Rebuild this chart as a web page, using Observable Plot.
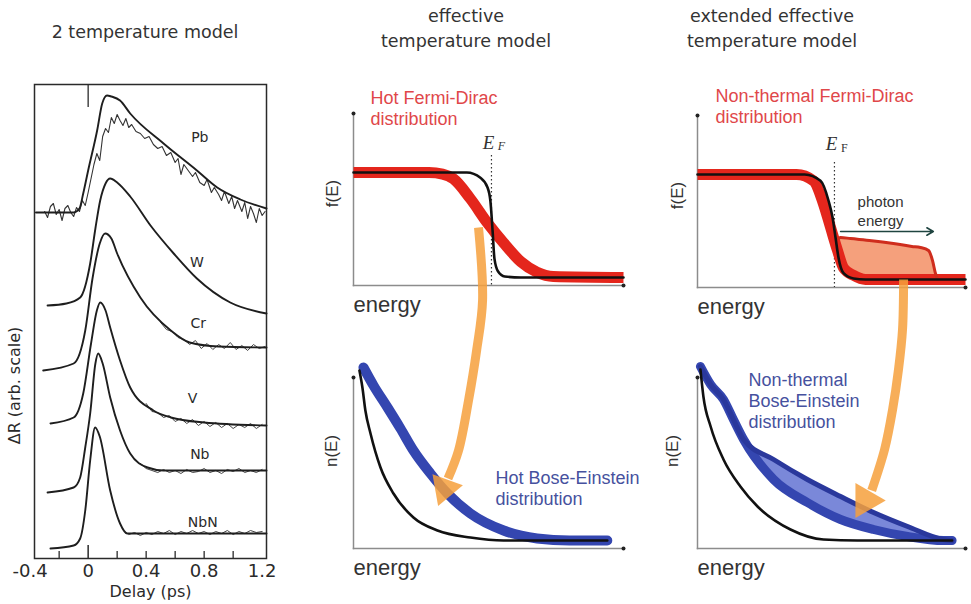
<!DOCTYPE html>
<html>
<head>
<meta charset="utf-8">
<script src="https://cdn.jsdelivr.net/npm/d3@7"></script>
<script src="https://cdn.jsdelivr.net/npm/@observablehq/plot@0.6"></script>
<style>
  body { margin: 0; background: #fff; }
  #fig { position: relative; width: 971px; height: 604px; overflow: hidden; background: #fff; }
  .title { position: absolute; transform: translate(-50%, -50%); white-space: nowrap;
           font-family: "DejaVu Sans", sans-serif; font-size: 17.5px; color: #333; text-align: center; line-height: 25px; }
</style>
</head>
<body>
<div id="fig">
  <div class="title" style="left:145px; top:32px;">2 temperature model</div>
  <div class="title" style="left:466px; top:29px;">effective<br>temperature model</div>
  <div class="title" style="left:772px; top:29px;">extended effective<br>temperature model</div>
</div>
<script>
// ---------- Left panel: transient reflectivity, one offset trace per metal ----------
const metalNames  = ["Pb", "W", "Cr", "V", "Nb", "NbN"];
const labelDelay  = [0.77, 0.75, 0.76, 0.72, 0.77, 0.79];
const labelValue  = [4.21, 2.96, 2.35, 1.60, 1.04, 0.36];
const delayTicks  = [-0.4, 0, 0.4, 0.8, 1.2];
const delayMinor  = [-0.2, 0.2, 0.4, 0.6, 0.8, 1.0];

// model fits, [delay (ps), ΔR (arb.)]
const pbFit  = [[-0.36,3.46],[-0.10,3.46],[-0.06,3.50],[-0.034,3.65],[0.0,3.88],[0.062,4.28],[0.097,4.55],[0.13,4.63],[0.16,4.62],[0.22,4.58],[0.29,4.45],[0.52,4.15],[0.75,3.88],[0.89,3.71],[1.05,3.59],[1.23,3.50]];
const wFit   = [[-0.28,2.53],[-0.15,2.55],[-0.055,2.61],[0.014,2.95],[0.05,3.30],[0.083,3.58],[0.12,3.75],[0.152,3.80],[0.2,3.76],[0.29,3.62],[0.43,3.33],[0.59,3.05],[0.75,2.80],[0.98,2.56],[1.23,2.45]];
const crFit  = [[-0.31,1.88],[-0.10,1.95],[-0.02,2.28],[0.03,2.80],[0.08,3.15],[0.117,3.25],[0.16,3.20],[0.2,3.05],[0.36,2.61],[0.57,2.28],[0.70,2.16],[0.9,2.12],[1.23,2.11]];
const vFit   = [[-0.26,1.35],[-0.10,1.41],[-0.034,1.65],[0.02,2.15],[0.06,2.48],[0.083,2.56],[0.12,2.48],[0.152,2.31],[0.22,1.98],[0.29,1.71],[0.45,1.48],[0.57,1.41],[0.8,1.36],[1.23,1.33]];
const nbFit  = [[-0.28,0.66],[-0.10,0.71],[-0.055,0.81],[-0.02,1.11],[0.014,1.45],[0.05,1.95],[0.069,2.05],[0.10,1.95],[0.152,1.61],[0.22,1.28],[0.29,1.05],[0.41,0.91],[0.52,0.88],[0.8,0.88],[1.23,0.88]];
const nbnFit = [[-0.26,0.10],[-0.10,0.13],[-0.055,0.20],[-0.02,0.48],[0.014,0.98],[0.048,1.31],[0.08,1.22],[0.152,0.68],[0.22,0.35],[0.27,0.25],[0.36,0.25],[0.6,0.25],[1.23,0.25]];

// measured transients (noisy)
const pbData = [[-0.30,3.47],[-0.28,3.41],[-0.26,3.52],[-0.24,3.55],[-0.22,3.44],[-0.20,3.49],[-0.18,3.38],[-0.16,3.50],[-0.14,3.53],[-0.12,3.46],
  [-0.10,3.42],[-0.08,3.51],[-0.06,3.47],[-0.04,3.58],[-0.02,3.53],[0.00,3.66],[0.02,3.80],[0.04,3.94],[0.06,4.05],[0.08,3.98],
  [0.10,4.22],[0.12,4.30],[0.14,4.26],[0.16,4.41],[0.18,4.35],[0.20,4.44],[0.22,4.38],[0.24,4.33],[0.26,4.40],[0.28,4.31],
  [0.30,4.34],[0.33,4.27],[0.36,4.25],[0.39,4.20],[0.42,4.22],[0.45,4.14],[0.48,4.10],[0.51,4.12],[0.54,4.03],[0.57,4.06],
  [0.60,3.96],[0.62,4.00],[0.64,3.84],[0.66,3.94],[0.69,3.88],[0.72,3.82],[0.74,3.86],[0.77,3.76],[0.80,3.73],[0.82,3.79],
  [0.85,3.66],[0.87,3.71],[0.90,3.64],[0.92,3.58],[0.94,3.67],[0.97,3.55],[0.99,3.62],[1.01,3.50],[1.03,3.58],[1.06,3.47],
  [1.08,3.56],[1.10,3.40],[1.12,3.52],[1.14,3.45],[1.16,3.36],[1.18,3.50],[1.20,3.43],[1.22,3.47]];
const crData  = [[0.50,2.36],[0.54,2.29],[0.58,2.27],[0.62,2.21],[0.66,2.19],[0.70,2.14],[0.74,2.18],[0.78,2.10],[0.82,2.15],[0.86,2.09],[0.90,2.14],[0.94,2.10],[0.98,2.16],[1.02,2.09],[1.06,2.13],[1.10,2.08],[1.14,2.14],[1.18,2.10],[1.22,2.12]];
const vData   = [[0.40,1.55],[0.44,1.47],[0.48,1.46],[0.52,1.41],[0.56,1.43],[0.60,1.37],[0.64,1.40],[0.68,1.35],[0.72,1.39],[0.76,1.33],[0.80,1.37],[0.84,1.32],[0.88,1.36],[0.92,1.31],[0.96,1.35],[1.00,1.30],[1.04,1.34],[1.08,1.31],[1.12,1.35],[1.16,1.30],[1.20,1.34]];
const nbData  = [[0.36,0.95],[0.40,0.90],[0.44,0.88],[0.48,0.86],[0.52,0.89],[0.56,0.86],[0.60,0.88],[0.64,0.85],[0.68,0.89],[0.72,0.86],[0.76,0.87],[0.80,0.90],[0.84,0.86],[0.88,0.88],[0.92,0.85],[0.96,0.89],[1.00,0.87],[1.04,0.90],[1.08,0.86],[1.12,0.88],[1.16,0.86],[1.20,0.89]];
const nbnData = [[0.28,0.24],[0.32,0.26],[0.36,0.23],[0.40,0.26],[0.44,0.24],[0.48,0.27],[0.52,0.25],[0.56,0.28],[0.60,0.24],[0.64,0.27],[0.68,0.25],[0.72,0.28],[0.76,0.25],[0.80,0.27],[0.84,0.24],[0.88,0.27],[0.92,0.25],[0.96,0.28],[1.00,0.24],[1.04,0.27],[1.08,0.25],[1.12,0.28],[1.16,0.26],[1.20,0.27]];

// ---------- Electron distributions f(E) ----------
const fermiEnergy = 0.511;
const fdColdMid   = [[0,1],[0.42,1],[0.47,0.95],[0.496,0.86],[0.507,0.73],[0.515,0.45],[0.522,0.18],[0.535,0.06],[0.56,0.01],[0.62,0],[1,0]];
const fdHotMid    = [[0,1],[0.28,1],[0.33,0.985],[0.37,0.94],[0.433,0.75],[0.496,0.52],[0.556,0.33],[0.62,0.15],[0.68,0.05],[0.74,0.01],[1,0]];
const fdColdRight = [[0,1],[0.40,1],[0.459,0.94],[0.489,0.75],[0.504,0.59],[0.515,0.40],[0.526,0.21],[0.545,0.06],[0.582,0.01],[0.627,0],[1,0]];
const fdHotRight  = [[0,1],[0.37,1],[0.433,0.94],[0.47,0.72],[0.496,0.50],[0.522,0.28],[0.545,0.11],[0.582,0.04],[0.627,0],[1,0]];
// non-thermal electrons: [E, upper f, lower f]
const fdNonThermal = [[0.526,0.39,0.26],[0.534,0.40,0.17],[0.571,0.39,0.03],[0.65,0.37,0],[0.731,0.343,0],[0.80,0.315,0],[0.832,0.305,0],[0.862,0.276,0],[0.877,0.18,0],[0.888,0.057,0],[0.896,0,0]];
const photonFrom = [0.534, 0.457];
const photonTo   = [0.88, 0.457];

// ---------- Phonon distributions n(E) ----------
const beColdMid   = [[0.022,1.70],[0.033,1.53],[0.044,1.30],[0.063,1.07],[0.1,0.73],[0.148,0.47],[0.222,0.23],[0.311,0.10],[0.433,0.03],[0.556,0],[0.94,0]];
const beHotMid    = [[0.037,1.73],[0.074,1.55],[0.126,1.33],[0.174,1.12],[0.222,0.90],[0.285,0.67],[0.348,0.47],[0.433,0.27],[0.556,0.10],[0.68,0.02],[0.80,0],[0.94,0]];
const beColdRight = [[0.011,1.71],[0.022,1.44],[0.049,1.14],[0.097,0.81],[0.16,0.54],[0.224,0.34],[0.347,0.11],[0.47,0.01],[0.597,0],[0.95,0]];
// non-thermal phonons: [E, upper n, lower n]
const beNonThermal = [[0.011,1.74,1.74],[0.049,1.56,1.56],[0.097,1.41,1.41],[0.134,1.21,1.21],[0.172,1.01,1.01],[0.284,0.81,0.61],[0.41,0.61,0.38],[0.534,0.44,0.21],[0.657,0.28,0.11],[0.784,0.14,0.04],[0.918,0.01,0],[0.95,0,0]];

// energy-transfer arrows (drawn in the n(E) panels, rising into the f(E) panels)
const transferMid       = [[0.463,3.13],[0.478,2.40],[0.456,1.90],[0.426,1.40],[0.389,0.90],[0.35,0.62]];
const transferMidHead   = [[0.337,0.52]];
const transferRight     = [[0.769,2.61],[0.765,2.11],[0.750,1.71],[0.728,1.31],[0.698,0.91],[0.65,0.50]];
const transferRightHead = [[0.627,0.40]];

// ---------- drawing ----------
const W = 971, H = 604;
const sans = "'Liberation Sans', Arial, sans-serif";
const deja = "'DejaVu Sans', sans-serif";
const serif = "'Liberation Serif', 'DejaVu Serif', serif";
const red = "#e4261c", blue = "#3446b0", orange = "#f6a03c";
const redText = "#e0474a", blueText = "#46519e", axisGray = "#8c8c8c", ink = "#2a2a2a";
const fig = document.getElementById("fig");

function add(opts) {
  const svg = Plot.plot({
    width: W, height: H,
    style: {background: "transparent", overflow: "visible", fontFamily: sans, position: "absolute", left: "0px", top: "0px"},
    ...opts
  });
  fig.append(svg);
}
const fmtDelay = d => d === 0 ? "0" : (d < 0 ? "-" + Math.abs(d) : String(d));
const px = d => d[0], py = d => d[1];

// left panel
const fitLines = [pbFit, wFit, crFit, vFit, nbFit, nbnFit].map(t =>
  Plot.line(t, {x: px, y: py, curve: "monotone-x", stroke: "#1e1e1e", strokeWidth: 1.9}));
const dataLines = [crData, vData, nbData, nbnData].map(t =>
  Plot.line(t, {x: px, y: py, stroke: "#444", strokeWidth: 1}));
add({
  marginLeft: 34, marginRight: W - 266, marginTop: 84, marginBottom: H - 558,
  x: {domain: [-0.37, 1.23], axis: null},
  y: {domain: [0, 4.74], axis: null},
  marks: [
    Plot.frame({stroke: ink, strokeWidth: 1.5}),
    Plot.ruleX(delayMinor, {x: d => d, y1: 0, y2: 0.07, stroke: ink, strokeWidth: 1.3}),
    Plot.ruleX([0], {x: d => d, y1: 0, y2: 0.13, stroke: ink, strokeWidth: 1.5}),
    Plot.ruleX([0], {x: d => d, y1: 4.74, y2: 4.51, stroke: ink, strokeWidth: 1.3}),
    Plot.line(pbData, {x: px, y: py, stroke: "#333", strokeWidth: 1.1}),
    ...dataLines,
    ...fitLines,
    Plot.text(metalNames, {x: (d, i) => labelDelay[i], y: (d, i) => labelValue[i], text: d => d, fontSize: 14, fontFamily: deja, fill: ink}),
    Plot.text(delayTicks, {x: d => d, frameAnchor: "bottom", lineAnchor: "middle", dy: 13, text: fmtDelay, fontSize: 18, fontFamily: deja, fill: ink}),
    Plot.text(["Delay (ps)"], {x: 0.43, frameAnchor: "bottom", lineAnchor: "middle", dy: 33, text: d => d, fontSize: 16, fontFamily: deja, fill: ink}),
    Plot.text(["ΔR (arb. scale)"], {x: -0.37, y: 1.73, rotate: -90, dx: -20, text: d => d, fontSize: 16, fontFamily: deja, fill: ink})
  ]
});

// shared pieces for the distribution panels
function axes() {
  return [
    Plot.frame({anchor: "left", stroke: axisGray, strokeWidth: 1.5}),
    Plot.frame({anchor: "bottom", stroke: axisGray, strokeWidth: 1.5}),
    Plot.dot([0], {frameAnchor: "top-left", r: 2, fill: "#222"}),
    Plot.dot([0], {frameAnchor: "bottom-right", r: 2, fill: "#222"})
  ];
}
function label(text, opts) {
  return Plot.text([text], {text: d => d, lineAnchor: "middle", ...opts});
}
const fRange = [-0.076, 1.562], nRange = [-0.08, 1.63];

// middle top: hot Fermi-Dirac
add({
  marginLeft: 353, marginRight: W - 623, marginTop: 113, marginBottom: H - 285,
  x: {domain: [0, 1], axis: null}, y: {domain: fRange, axis: null},
  marks: [
    ...axes(),
    Plot.ruleX([fermiEnergy], {x: d => d, y1: 1.162, y2: fRange[0], stroke: "#333", strokeWidth: 1.2, strokeDasharray: "1.5,2.5"}),
    Plot.line(fdHotMid, {x: px, y: py, curve: "monotone-x", stroke: red, strokeWidth: 11, strokeLinecap: "butt"}),
    Plot.line(fdColdMid, {x: px, y: py, curve: "monotone-x", stroke: "#111", strokeWidth: 2.6}),
    label("Hot Fermi-Dirac\ndistribution", {frameAnchor: "top-left", textAnchor: "start", dx: 17, dy: -5.5, fontSize: 18, lineHeight: 1.17, fill: redText}),
    label("E", {x: fermiEnergy, frameAnchor: "top", dx: -3, dy: 29, fontSize: 19, fontStyle: "italic", fontFamily: serif, fill: "#333"}),
    label("F", {x: fermiEnergy, frameAnchor: "top", dx: 10, dy: 33, fontSize: 12, fontStyle: "italic", fontFamily: serif, fill: "#333"}),
    label("f(E)", {frameAnchor: "left", textAnchor: "middle", rotate: -90, dx: -21, dy: -6, fontSize: 17, fill: "#333"}),
    label("energy", {frameAnchor: "bottom-left", textAnchor: "start", dy: 19, fontSize: 22, fill: "#333"})
  ]
});

// right top: hot + non-thermal Fermi-Dirac
add({
  marginLeft: 697, marginRight: W - 965, marginTop: 115, marginBottom: H - 287,
  x: {domain: [0, 1], axis: null}, y: {domain: fRange, axis: null},
  marks: [
    ...axes(),
    Plot.ruleX([fermiEnergy], {x: d => d, y1: 1.114, y2: fRange[0], stroke: "#333", strokeWidth: 1.2, strokeDasharray: "1.5,2.5"}),
    Plot.areaY(fdNonThermal, {x: d => d[0], y1: d => d[2], y2: d => d[1], curve: "monotone-x", fill: "#f5a07c"}),
    Plot.line(fdHotRight, {x: px, y: py, curve: "monotone-x", stroke: red, strokeWidth: 11, strokeLinecap: "butt"}),
    Plot.line(fdNonThermal, {x: d => d[0], y: d => d[1], curve: "monotone-x", stroke: "#cf2d1d", strokeWidth: 3}),
    Plot.line(fdColdRight, {x: px, y: py, curve: "monotone-x", stroke: "#111", strokeWidth: 2.6}),
    Plot.arrow([0], {x1: photonFrom[0], y1: photonFrom[1], x2: photonTo[0], y2: photonTo[1], stroke: "#1f4440", strokeWidth: 1.6, headLength: 7}),
    label("photon\nenergy", {x: 0.683, y: 0.662, fontSize: 15, lineHeight: 1.27, fill: "#333"}),
    label("Non-thermal Fermi-Dirac\ndistribution", {frameAnchor: "top-left", textAnchor: "start", dx: 18, dy: -10, fontSize: 18, lineHeight: 1.17, fill: redText}),
    label("E", {x: fermiEnergy, frameAnchor: "top", dx: -3, dy: 28, fontSize: 19, fontStyle: "italic", fontFamily: serif, fill: "#333"}),
    label("F", {x: fermiEnergy, frameAnchor: "top", dx: 10, dy: 33, fontSize: 12, fontFamily: serif, fill: "#333"}),
    label("f(E)", {frameAnchor: "left", textAnchor: "middle", rotate: -90, dx: -20, dy: -6, fontSize: 17, fill: "#333"}),
    label("energy", {frameAnchor: "bottom-left", textAnchor: "start", dy: 19, fontSize: 22, fill: "#333"})
  ]
});

// middle bottom: hot Bose-Einstein
add({
  marginLeft: 353, marginRight: W - 623, marginTop: 377, marginBottom: H - 548,
  x: {domain: [0, 1], axis: null}, y: {domain: nRange, axis: null},
  marks: [
    ...axes(),
    Plot.line(beHotMid, {x: px, y: py, curve: "monotone-x", stroke: blue, strokeWidth: 10}),
    Plot.line(beColdMid, {x: px, y: py, curve: "monotone-x", stroke: "#111", strokeWidth: 2.6}),
    label("Hot Bose-Einstein\ndistribution", {frameAnchor: "top-left", textAnchor: "start", dx: 142, dy: 110.5, fontSize: 18, lineHeight: 1.17, fill: blueText}),
    label("n(E)", {frameAnchor: "left", textAnchor: "middle", rotate: -90, dx: -22, dy: -12, fontSize: 17, fill: "#333"}),
    label("energy", {frameAnchor: "bottom-left", textAnchor: "start", dy: 19, fontSize: 22, fill: "#333"}),
    Plot.line(transferMid, {x: px, y: py, curve: "catmull-rom", stroke: orange, strokeWidth: 9, strokeOpacity: 0.85, strokeLinecap: "butt"}),
    Plot.dot(transferMidHead, {x: px, y: py, symbol: "triangle", r: 12, rotate: 200, fill: orange, fillOpacity: 0.85, stroke: "none"})
  ]
});

// right bottom: hot + non-thermal Bose-Einstein
add({
  marginLeft: 697, marginRight: W - 965, marginTop: 377, marginBottom: H - 548,
  x: {domain: [0, 1], axis: null}, y: {domain: nRange, axis: null},
  marks: [
    ...axes(),
    Plot.areaY(beNonThermal, {x: d => d[0], y1: d => d[2], y2: d => d[1], curve: "monotone-x", fill: "#7a88d9"}),
    Plot.line(beNonThermal, {x: d => d[0], y: d => d[2], curve: "monotone-x", stroke: blue, strokeWidth: 9}),
    Plot.line(beNonThermal, {x: d => d[0], y: d => d[1], curve: "monotone-x", stroke: "#2a389c", strokeWidth: 5}),
    Plot.line(beColdRight, {x: px, y: py, curve: "monotone-x", stroke: "#111", strokeWidth: 2.6}),
    label("Non-thermal\nBose-Einstein\ndistribution", {frameAnchor: "top-left", textAnchor: "start", dx: 51, dy: 23, fontSize: 18, lineHeight: 1.17, fill: blueText}),
    label("n(E)", {frameAnchor: "left", textAnchor: "middle", rotate: -90, dx: -25, dy: -12, fontSize: 17, fill: "#333"}),
    label("energy", {frameAnchor: "bottom-left", textAnchor: "start", dy: 19, fontSize: 22, fill: "#333"}),
    Plot.line(transferRight, {x: px, y: py, curve: "catmull-rom", stroke: orange, strokeWidth: 9, strokeOpacity: 0.85, strokeLinecap: "butt"}),
    Plot.dot(transferRightHead, {x: px, y: py, symbol: "triangle", r: 13, rotate: 210, fill: orange, fillOpacity: 0.85, stroke: "none"})
  ]
});
</script>
</body>
</html>
